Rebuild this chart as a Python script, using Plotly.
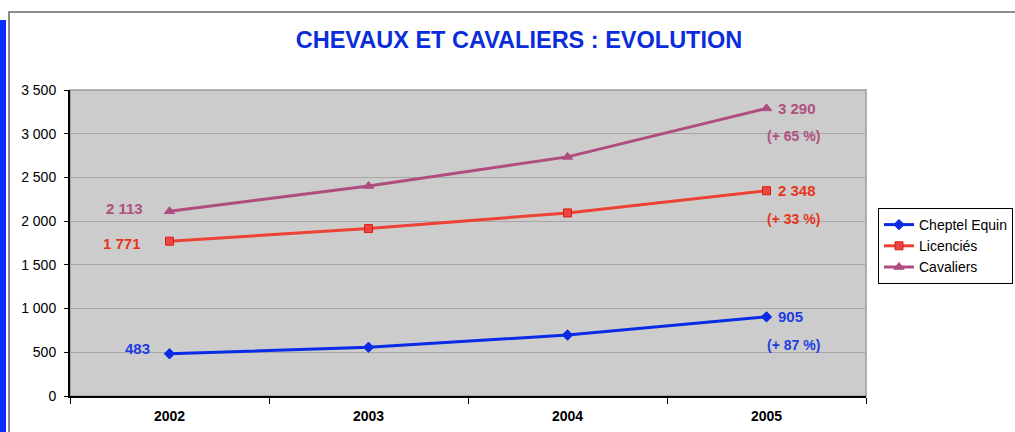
import plotly.graph_objects as go

years = ["2002", "2003", "2004", "2005"]
cheptel = [483, 557, 697, 905]
licencies = [1771, 1915, 2094, 2348]
cavaliers = [2113, 2402, 2735, 3290]
series_names = ["Cheptel Equin", "Licenciés", "Cavaliers"]
start_labels = ["483", "1 771", "2 113"]
end_labels = ["905", "2 348", "3 290"]
pct_labels = ["(+ 87 %)", "(+ 33 %)", "(+ 65 %)"]
y_ticks = [0, 500, 1000, 1500, 2000, 2500, 3000, 3500]

line_colors = ["#0A2AE6", "#EE4236", "#B04C80"]
text_colors = ["#1E3CE0", "#E8341C", "#B0507F"]
marker_symbols = ["diamond", "square", "triangle-up"]
marker_sizes = [8, 8, 9]
marker_line = ["#0A2AE6", "#D81E10", "#B04C80"]

W, H = 1015, 432
L, R, T, B = 70, 149, 90, 36
pw, ph = W - L - R, H - T - B

def px(x):
    return (x - L) / pw

def py(y):
    return (H - B - y) / ph

fig = go.Figure()
all_series = [cheptel, licencies, cavaliers]
for i, vals in enumerate(all_series):
    fig.add_trace(go.Scatter(
        x=years, y=vals, name=series_names[i], mode="lines+markers",
        line=dict(color=line_colors[i], width=3),
        marker=dict(symbol=marker_symbols[i], size=marker_sizes[i],
                    color=line_colors[i] if i != 1 else "#EE4444",
                    line=dict(color=marker_line[i], width=1)),
    ))

first_idx = 0
last_idx = len(years) - 1
start_shift = [(-18, 5), (-27, -2), (-25, 3)]
for i, vals in enumerate(all_series):
    fig.add_annotation(x=first_idx, y=vals[0], text="<b>%s</b>" % start_labels[i],
                       showarrow=False, xanchor="right", yanchor="middle",
                       xshift=start_shift[i][0], yshift=start_shift[i][1],
                       font=dict(size=15, color=text_colors[i]))
    fig.add_annotation(x=last_idx, y=vals[-1], text="<b>%s</b>" % end_labels[i],
                       showarrow=False, xanchor="left", yanchor="middle",
                       xshift=9, yshift=0,
                       font=dict(size=15, color=text_colors[i]))
    fig.add_annotation(x=last_idx, y=vals[-1], text="<b>%s</b>" % pct_labels[i],
                       showarrow=False, xanchor="left", yanchor="middle",
                       xshift=-2, yshift=-28,
                       font=dict(size=14, color=text_colors[i]))

# outer chart border and blue side bar
fig.add_shape(type="rect", xref="paper", yref="paper",
              x0=px(9), x1=px(1040), y0=py(12), y1=py(460),
              line=dict(color="#8C8C8C", width=2), fillcolor="rgba(0,0,0,0)", layer="below")
fig.add_shape(type="rect", xref="paper", yref="paper",
              x0=px(-2), x1=px(6), y0=py(20), y1=py(460),
              line=dict(width=0), fillcolor="#0B2BFF", layer="below")
# grey plot border (top/right)
fig.add_shape(type="rect", xref="paper", yref="paper",
              x0=0, x1=1, y0=0, y1=1,
              line=dict(color="#9A9A9A", width=1.5), fillcolor="rgba(0,0,0,0)", layer="below")

fig.update_layout(
    width=W, height=H,
    margin=dict(l=L, r=R, t=T, b=B, autoexpand=False),
    paper_bgcolor="white", plot_bgcolor="#CCCCCC",
    font=dict(family="Liberation Sans, Arial, sans-serif", size=14, color="black"),
    separators=", ",
    title=dict(text="<b>CHEVAUX ET CAVALIERS : EVOLUTION</b>",
               xref="paper", x=px(519), xanchor="center",
               yref="container", y=1 - 40 / H, yanchor="middle",
               font=dict(size=23.5, color="#0A2DDB")),
    showlegend=True,
    legend=dict(x=px(878), y=py(208), xanchor="left", yanchor="top",
                bgcolor="white", bordercolor="black", borderwidth=1,
                font=dict(size=14), tracegroupgap=0, itemwidth=30),
    xaxis=dict(type="category", range=[-0.5, 3.5], tickson="boundaries",
               ticks="outside", ticklen=6, tickcolor="black", tickwidth=1,
               showline=True, linecolor="black", linewidth=2,
               showgrid=False, zeroline=False, ticklabelstandoff=6,
               tickfont=dict(size=14, weight="bold")),
    yaxis=dict(range=[0, 3500], tickvals=y_ticks, tickformat=",d",
               ticks="outside", ticklen=4, tickcolor="black",
               showline=True, linecolor="black", linewidth=2,
               showgrid=True, gridcolor="#A6A6A6", gridwidth=1,
               zeroline=False, ticklabelstandoff=5, tickfont=dict(size=14)),
)

fig.write_html("out.html", config={"displayModeBar": False},
               post_script="document.body.style.margin='0';document.body.style.overflow='hidden';")
